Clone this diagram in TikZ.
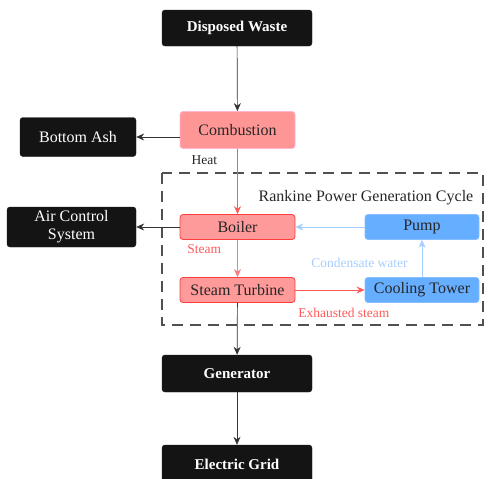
\documentclass[tikz,border=0pt]{standalone}
\usepackage{fontspec}
\setmainfont{Liberation Serif}
\usetikzlibrary{arrows.meta}
\definecolor{boxblack}{HTML}{141414}
\definecolor{combpink}{HTML}{FF9696}
\definecolor{combedge}{HTML}{FFB4D2}
\definecolor{boilfill}{HTML}{FF9A9A}
\definecolor{boiledge}{HTML}{FF3C3C}
\definecolor{coolfill}{HTML}{66AEFF}
\definecolor{cooledge}{HTML}{86BEFF}
\definecolor{steamred}{HTML}{FF5A5A}
\definecolor{waterblue}{HTML}{A4CDFF}
\definecolor{framegray}{HTML}{505050}

\begin{document}
\begin{tikzpicture}[x=1pt,y=-1pt,
  blackbox/.style={draw=boxblack,fill=boxblack,rounded corners=3pt,text=white,font=\bfseries\fontsize{15}{16}\selectfont,minimum height=36pt,align=center,inner sep=1pt},
  pinkbox/.style={draw=boiledge,fill=boilfill,rounded corners=3pt,text=black!85,font=\fontsize{16}{18}\selectfont,minimum width=115pt,minimum height=25pt,line width=0.8pt,inner sep=1pt},
  bluebox/.style={draw=cooledge,fill=coolfill,rounded corners=3pt,text=black!85,font=\fontsize{16}{18}\selectfont,minimum width=114pt,minimum height=25pt,line width=0.8pt,inner sep=1pt},
  lbl/.style={font=\fontsize{13.5}{15}\selectfont,inner sep=0pt}]
\useasboundingbox (0,0) rectangle (490,479);

\node[blackbox,minimum width=150pt] (waste) at (237,28) {Disposed Waste};
\node[pinkbox,draw=combedge,fill=combpink,minimum height=37pt] (comb) at (237.5,130) {Combustion};
\node[blackbox,minimum width=116pt,minimum height=39pt,font=\fontsize{16}{17}\selectfont] (ash) at (78,137) {Bottom Ash};
\node[blackbox,minimum width=129pt,minimum height=40pt,font=\fontsize{16}{18}\selectfont] (air) at (71.5,227) {Air Control\\System};
\node[pinkbox] (boiler) at (237.5,227) {Boiler};
\node[bluebox] (pump) at (422,227) {Pump};
\node[pinkbox] (turbine) at (237.5,290) {Steam Turbine};
\node[bluebox] (cooling) at (422,290) {Cooling Tower};
\node[blackbox,minimum width=150pt,minimum height=37pt] (gen) at (237,373.5) {Generator};
\node[blackbox,minimum width=150pt,minimum height=38pt] (grid) at (237,464) {Electric Grid};

%dashed frame of the cycle
\draw[framegray,line width=1.2pt,dash pattern=on 11pt off 7pt] (162,173) rectangle (483,325);
\node[font=\fontsize{16}{18}\selectfont,text=black!85] (rankine) at (366,198) {Rankine Power Generation Cycle};

%black connectors
\begin{scope}[line width=0.7pt,black!80,-{Stealth[length=8pt,width=7pt]}]
\draw (waste) -- (comb);
\draw (comb.west|-ash) -- (ash);
\draw (boiler) -- (air);
\draw (gen) -- (grid);
\end{scope}
\draw[line width=0.7pt,black!80,-{Stealth[length=8pt,width=7pt]}] (turbine) -- (gen);

%cycle connectors
\draw[steamred,line width=0.7pt,-{Stealth[length=8pt,width=7pt]}] (comb) -- node[pos=0.18,left=20pt,lbl,text=black!85]{Heat} (boiler);
\draw[steamred!80,line width=0.7pt,-{Stealth[length=8pt,width=7pt]}] (boiler) -- node[pos=0.25,left=16pt,lbl,text=steamred]{Steam} (turbine);
\draw[steamred,line width=0.7pt,-{Stealth[length=8pt,width=7pt]}] (turbine) -- node[pos=0.7,below=18pt,lbl,text=steamred]{Exhausted steam} (cooling);
\draw[waterblue,line width=0.7pt,-{Stealth[length=8pt,width=7pt]}] (cooling.north-|pump) -- node[pos=0.38,left=14pt,lbl,text=waterblue]{Condensate water} (pump);
\draw[waterblue,line width=0.7pt,-{Stealth[length=8pt,width=7pt]}] (pump) -- (boiler);
\end{tikzpicture}
\end{document}
